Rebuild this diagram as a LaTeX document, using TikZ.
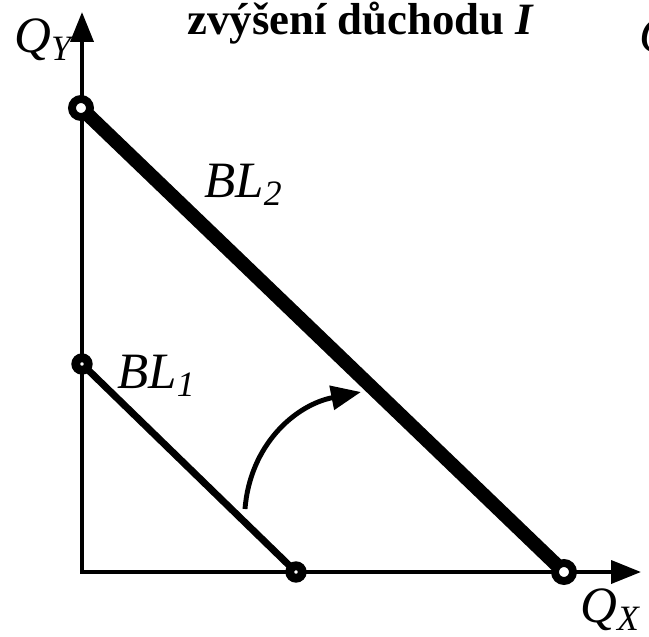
\documentclass[tikz,border=0pt]{standalone}
\usepackage{fontspec}
\setmainfont{Liberation Serif}
\usetikzlibrary{arrows.meta}

\begin{document}
\begin{tikzpicture}[x=0.02cm,y=-0.02cm,
    every node/.style={inner sep=0pt},
    axis/.style={line width=2.3pt,{Triangle[length=17pt,width=13pt]}-{Triangle[length=17pt,width=13pt]}},
    budget1/.style={line width=4pt},
    budget2/.style={line width=8pt},
    bigend/.style={circle,draw,fill=white,line width=4.5pt,minimum size=0.36cm},
    smallend/.style={circle,draw,fill=white,line width=5pt,minimum size=0.25cm},
    shiftarrow/.style={line width=2.8pt,-{Triangle[length=17pt,width=13.5pt]}},
    lbl/.style={font=\fontsize{29}{31}\selectfont\itshape}]
  \useasboundingbox (0,0) rectangle (649,636);

  \coordinate (O) at (82,572);
  \coordinate (ytip) at (82,12);
  \coordinate (xtip) at (641,572);

  \coordinate (p2y) at (81,108);
  \coordinate (p2x) at (564,572);
  \coordinate (p1y) at (82,364);
  \coordinate (p1x) at (296,572);

  \coordinate (s) at (245,509);
  \coordinate (t) at (361,392);

  % axes
  \draw[axis] (ytip) -- (O) -- (xtip);

  % budget lines
  \draw[budget1] (p1y) -- (p1x);
  \draw[budget2] (p2y) -- (p2x);
  \node[smallend] (e1y) at (p1y) {};
  \node[smallend] (e1x) at (p1x) {};
  \node[bigend] (e2y) at (p2y) {};
  \node[bigend] (e2x) at (p2x) {};

  % shift of the budget line
  \draw[shiftarrow] (s) .. controls (250,445) and (295,405) .. (t);

  % labels
  \node[lbl,anchor=base] (qy) at (43,52) {Q\textsubscript{Y}};
  \node[lbl,anchor=base] (qx) at (610,622) {Q\textsubscript{X}};
  \node[lbl,anchor=base west] (bl2) at (204,197) {BL\textsubscript{2}};
  \node[lbl,anchor=base west] (bl1) at (117,388) {BL\textsubscript{1}};
  \node[font=\fontsize{25.5}{27}\selectfont\bfseries,anchor=base] (title) at (361,34) {zvýšení důchodu \textit{I}};
  \node[lbl,anchor=base west] (qcut) at (639,52) {Q};
\end{tikzpicture}
\end{document}
